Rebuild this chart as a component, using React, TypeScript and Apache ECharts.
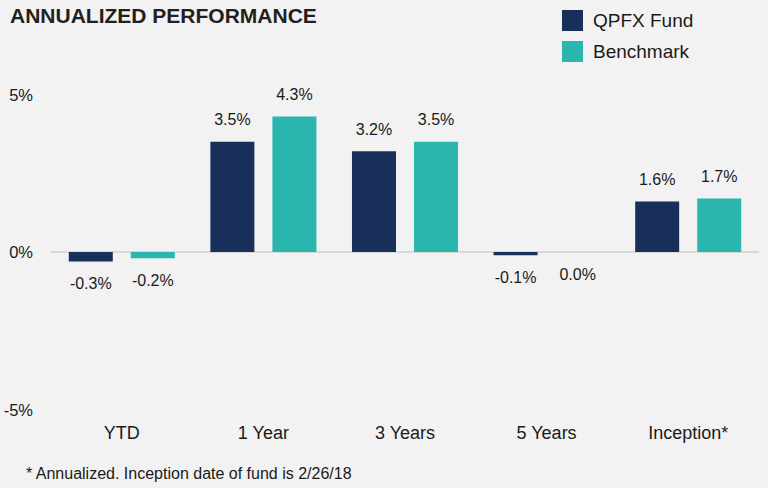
import React, { useEffect, useRef } from "react";
import * as echarts from "echarts";

const categories = ["YTD", "1 Year", "3 Years", "5 Years", "Inception*"];
const fundValues = [-0.3, 3.5, 3.2, -0.1, 1.6];
const benchValues = [-0.2, 4.3, 3.5, 0.0, 1.7];
const seriesNames = ["QPFX Fund", "Benchmark"];
const yTicks = { min: -5, max: 5, interval: 5 };
const titleText = "ANNUALIZED PERFORMANCE";
const footnote = "* Annualized. Inception date of fund is 2/26/18";

const NARROW = "'Liberation Sans Narrow', 'Arial Narrow', 'Liberation Sans', Arial, sans-serif";
const SANS = "'Liberation Sans', Arial, sans-serif";
const TEXT = "#1a1a1a";

function toData(values: number[]) {
  return values.map((v) => ({
    value: v,
    label: { position: v > 0 ? "top" : "bottom" },
  }));
}

export default function App() {
  const ref = useRef<HTMLDivElement>(null);
  useEffect(() => {
    if (!ref.current) return;
    const chart = echarts.init(ref.current, undefined, { renderer: "svg" });
    const labelCfg = {
      show: true,
      distance: 14,
      fontSize: 16,
      fontFamily: NARROW,
      color: TEXT,
      formatter: (p: any) => Number(p.value).toFixed(1) + "%",
    };
    chart.setOption({
      animation: false,
      backgroundColor: "#f2f2f2",
      title: {
        text: titleText,
        left: 10,
        top: 5,
        padding: 0,
        textStyle: { fontSize: 21, fontWeight: "bold", fontFamily: SANS, color: "#231f20" },
      },
      legend: {
        orient: "vertical",
        left: 562,
        top: 10,
        padding: 0,
        itemWidth: 21,
        itemHeight: 21,
        itemGap: 10,
        icon: "rect",
        textStyle: { fontSize: 19, fontFamily: SANS, color: TEXT, padding: [0, 0, 0, 5] },
        data: seriesNames,
      },
      grid: { left: 51, right: 9, top: 94.5, bottom: 78.5, containLabel: false },
      xAxis: {
        type: "category",
        data: categories,
        axisLine: { show: false, onZero: false },
        axisTick: { show: false },
        axisLabel: { margin: 14, fontSize: 18, fontFamily: SANS, color: TEXT },
      },
      yAxis: {
        type: "value",
        min: yTicks.min,
        max: yTicks.max,
        interval: yTicks.interval,
        splitLine: { show: false },
        axisLine: { show: false },
        axisTick: { show: false },
        axisLabel: {
          margin: 18,
          fontSize: 16.5,
          fontFamily: NARROW,
          color: TEXT,
          formatter: (v: number) => v + "%",
        },
      },
      series: [
        {
          name: seriesNames[0],
          type: "bar",
          barWidth: 44,
          barGap: "41%",
          itemStyle: { color: "#182f5a" },
          label: labelCfg,
          data: toData(fundValues),
          markLine: {
            silent: true,
            symbol: "none",
            label: { show: false },
            lineStyle: { color: "#d9d9d9", width: 2, type: "solid" },
            data: [{ yAxis: 0 }],
            z: 1,
          },
          z: 3,
        },
        {
          name: seriesNames[1],
          type: "bar",
          barWidth: 44,
          barGap: "41%",
          itemStyle: { color: "#2ab5ae" },
          label: labelCfg,
          data: toData(benchValues),
          z: 3,
        },
      ],
      graphic: [
        {
          type: "text",
          left: 26,
          top: 465,
          style: { text: footnote, fontSize: 16, fontFamily: SANS, fill: TEXT },
        },
      ],
    });
    return () => chart.dispose();
  }, []);
  return (
    <div
      ref={ref}
      style={{ position: "fixed", left: 0, top: 0, width: 768, height: 488 }}
    />
  );
}
